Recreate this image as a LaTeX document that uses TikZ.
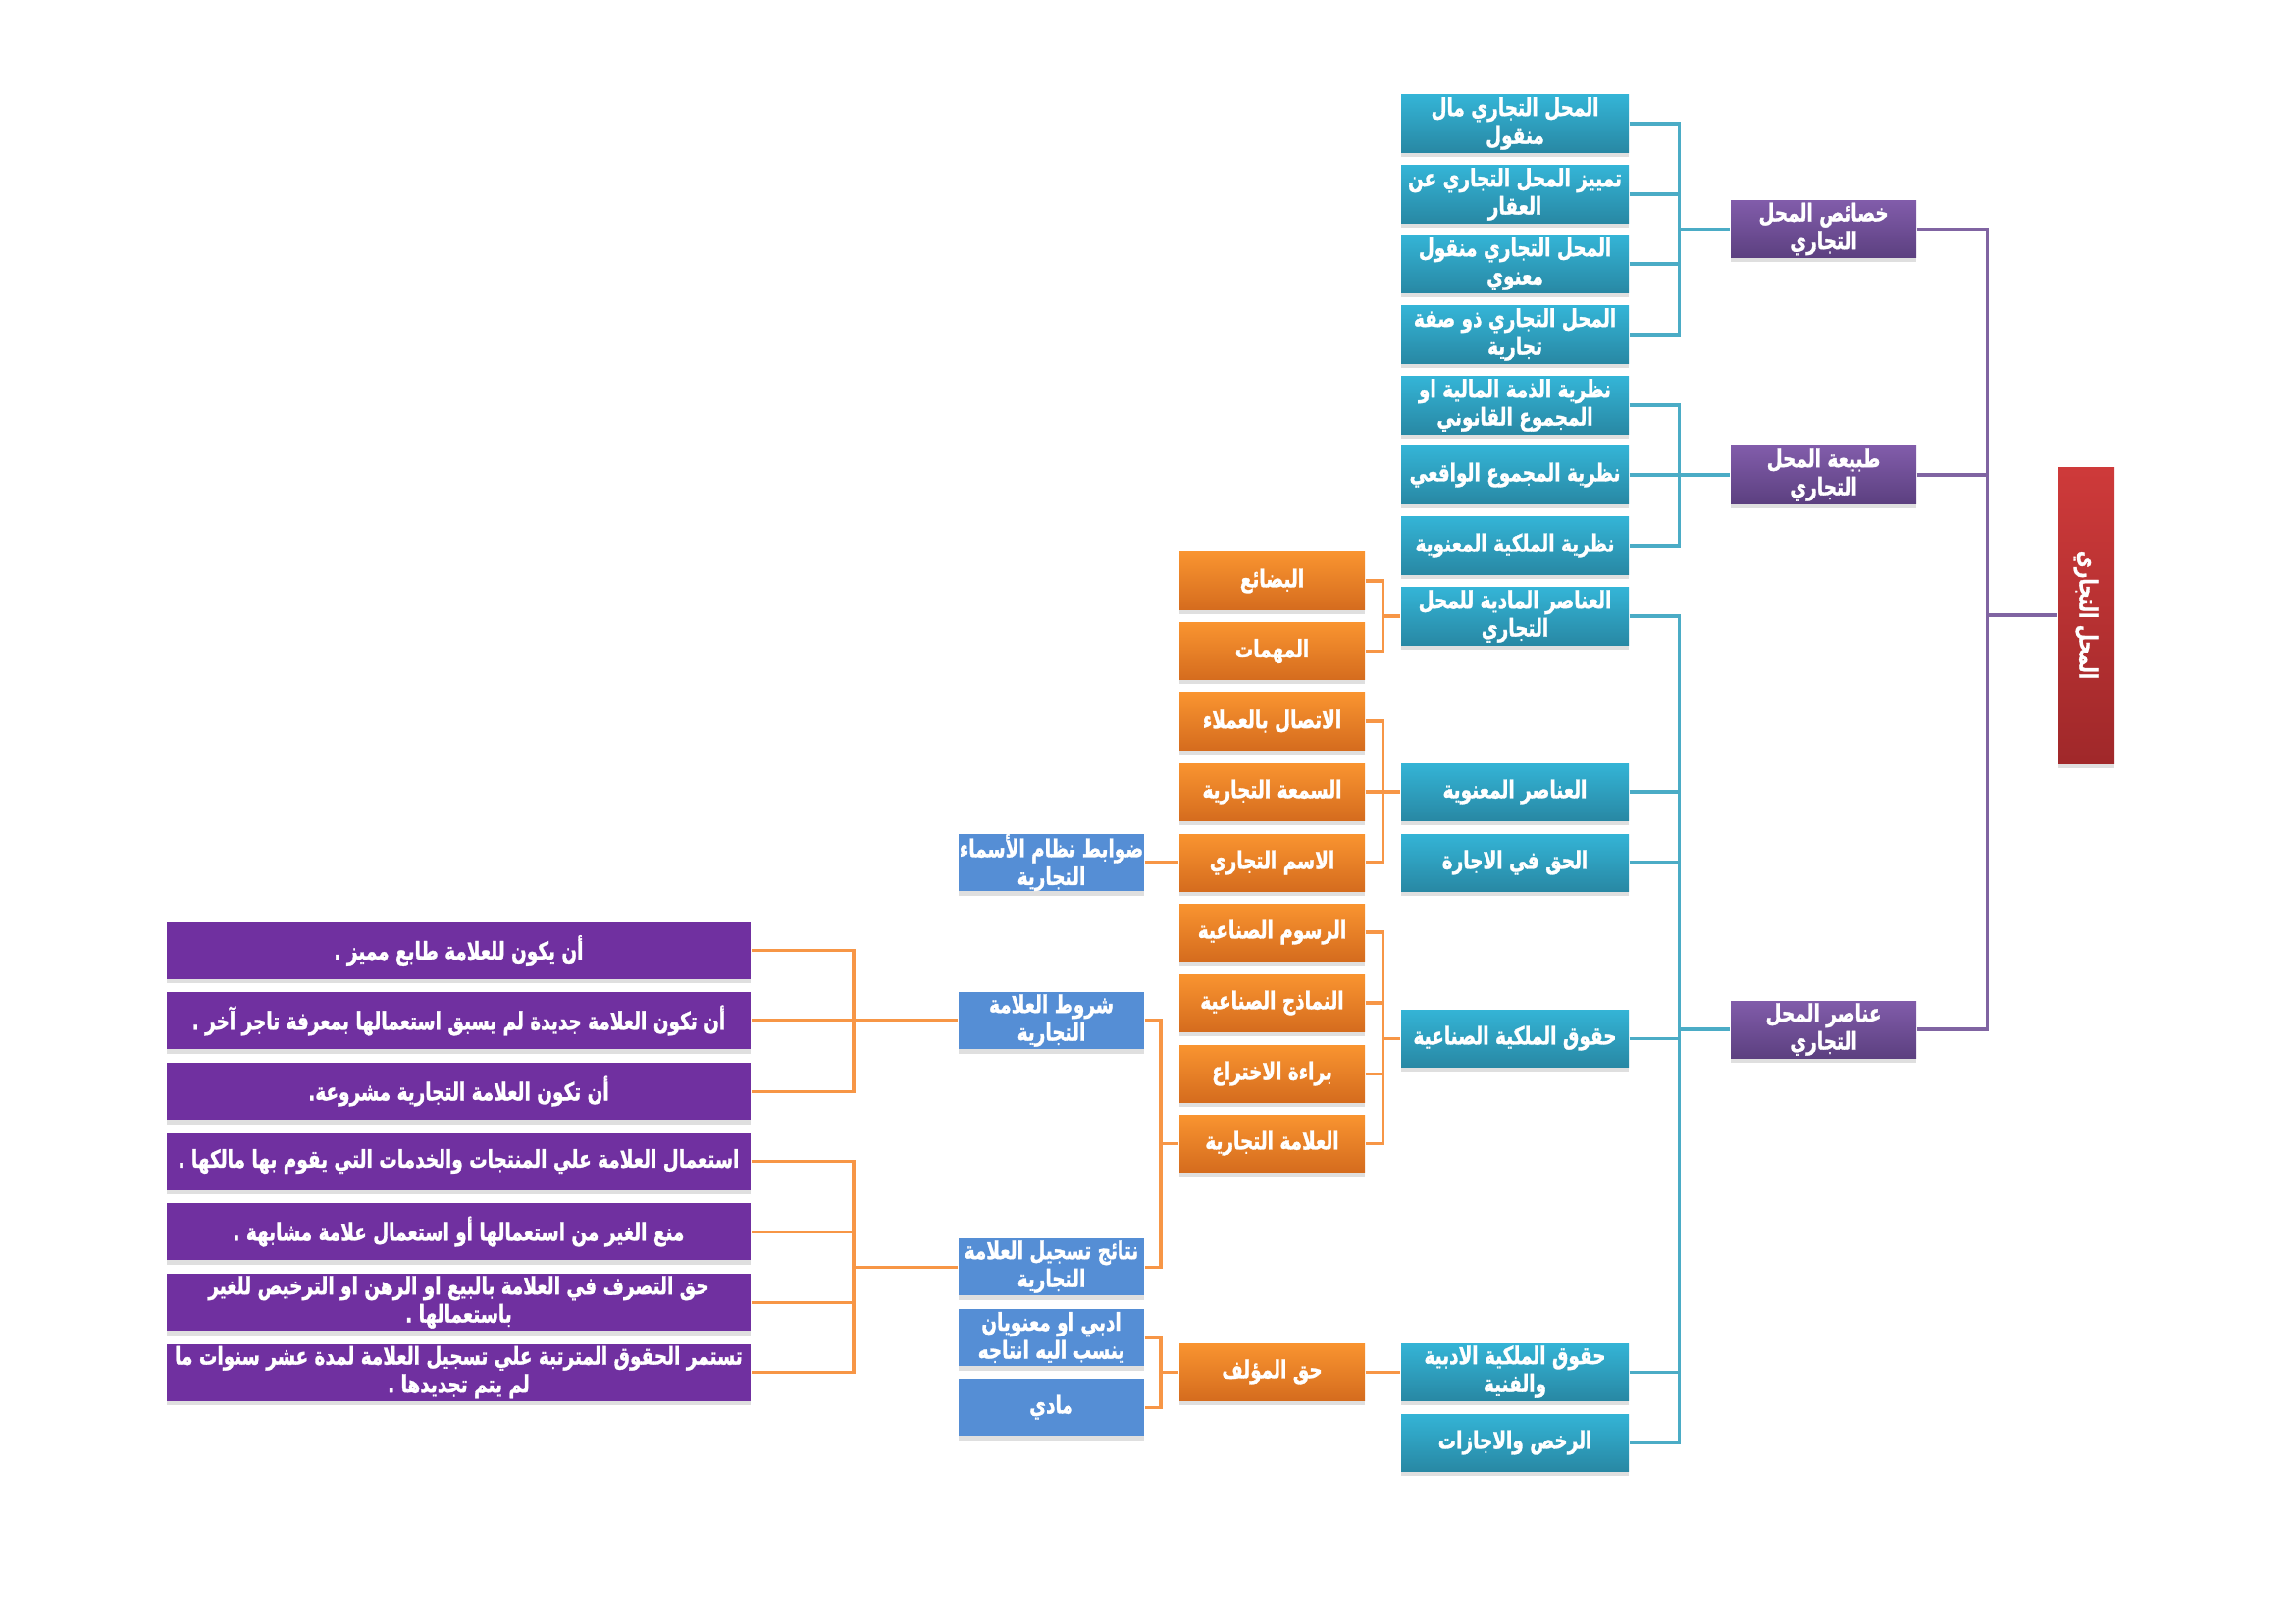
\documentclass[tikz,border=0pt]{standalone}
\usepackage{fontspec}
\TeXXeTstate=1
\newfontfamily\arabicfont[Script=Arabic,FakeStretch=0.74,BoldFeatures={FakeBold=1.2}]{DejaVu Sans}
\usetikzlibrary{shadows}
\definecolor{tealT}{RGB}{52,180,214}
\definecolor{tealB}{RGB}{40,136,164}
\definecolor{orT}{RGB}{249,148,48}
\definecolor{orB}{RGB}{213,108,30}
\definecolor{puT}{RGB}{129,92,170}
\definecolor{puB}{RGB}{92,64,128}
\definecolor{blueF}{RGB}{85,142,213}
\definecolor{purpF}{RGB}{112,48,160}
\definecolor{redT}{RGB}{206,58,58}
\definecolor{redB}{RGB}{160,40,42}
\definecolor{lineO}{RGB}{247,150,70}
\definecolor{lineT}{RGB}{75,172,198}
\definecolor{lineP}{RGB}{128,100,162}
\newcommand\ar[1]{\beginR #1\endR}
\begin{document}
\begin{tikzpicture}[x=0.127mm,y=-0.127mm,
  boxbase/.style={inner sep=0pt, align=center, text=white,
    font=\arabicfont\bfseries\fontsize{9}{10.3}\selectfont,
    minimum height=7.37mm,
    drop shadow={shadow xshift=0mm, shadow yshift=-0.6mm, opacity=0.25}},
  tealbox/.style={boxbase, minimum width=29.46mm, top color=tealT, bottom color=tealB},
  orbox/.style={boxbase, minimum width=24mm, top color=orT, bottom color=orB},
  pubox/.style={boxbase, minimum width=24mm, top color=puT, bottom color=puB},
  bluebox/.style={boxbase, minimum width=24mm, fill=blueF},
  leftbox/.style={boxbase, minimum width=75.6mm, fill=purpF},
  redbox/.style={boxbase, minimum width=7.37mm, minimum height=38.35mm, top color=redT, bottom color=redB},
  lo/.style={draw=lineO, line width=1.1pt},
  lt/.style={draw=lineT, line width=1.1pt},
  lp/.style={draw=lineP, line width=1.1pt}]
\useasboundingbox (0,0) rectangle (2338,1654);

% root
\node[redbox] (R) at (2126,627) {};
\node[text=white, font=\arabicfont\bfseries\fontsize{9}{11}\selectfont, rotate=-90] (Rt) at (R.center) {\ar{المحل التجاري}};

% purple right
\node[pubox] (P1) at (1858.5,233.5) {\ar{خصائص المحل}\\\ar{التجاري}};
\node[pubox] (P2) at (1858.5,484) {\ar{طبيعة المحل}\\\ar{التجاري}};
\node[pubox] (P3) at (1858.5,1049) {\ar{عناصر المحل}\\\ar{التجاري}};

% teal
\node[tealbox] (T1) at (1544,126) {\ar{المحل التجاري مال}\\\ar{منقول}};
\node[tealbox] (T2) at (1544,198) {\ar{تمييز المحل التجاري عن}\\\ar{العقار}};
\node[tealbox] (T3) at (1544,269) {\ar{المحل التجاري منقول}\\\ar{معنوي}};
\node[tealbox] (T4) at (1544,341) {\ar{المحل التجاري ذو صفة}\\\ar{تجارية}};
\node[tealbox] (T5) at (1544,413) {\ar{نظرية الذمة المالية او}\\\ar{المجموع القانوني}};
\node[tealbox] (T6) at (1544,484) {\ar{نظرية المجموع الواقعي}};
\node[tealbox] (T7) at (1544,556) {\ar{نظرية الملكية المعنوية}};
\node[tealbox] (T8) at (1544,628) {\ar{العناصر المادية للمحل}\\\ar{التجاري}};
\node[tealbox] (T9) at (1544,807) {\ar{العناصر المعنوية}};
\node[tealbox] (T10) at (1544,879) {\ar{الحق في الاجارة}};
\node[tealbox] (T11) at (1544,1058) {\ar{حقوق الملكية الصناعية}};
\node[tealbox] (T12) at (1544,1398) {\ar{حقوق الملكية الادبية}\\\ar{والفنية}};
\node[tealbox] (T13) at (1544,1470) {\ar{الرخص والاجازات}};

% orange
\node[orbox] (O1) at (1296.5,592) {\ar{البضائع}};
\node[orbox] (O2) at (1296.5,663.5) {\ar{المهمات}};
\node[orbox] (O3) at (1296.5,735) {\ar{الاتصال بالعملاء}};
\node[orbox] (O4) at (1296.5,807) {\ar{السمعة التجارية}};
\node[orbox] (O5) at (1296.5,879) {\ar{الاسم التجاري}};
\node[orbox] (O6) at (1296.5,950) {\ar{الرسوم الصناعية}};
\node[orbox] (O7) at (1296.5,1022) {\ar{النماذج الصناعية}};
\node[orbox] (O8) at (1296.5,1094) {\ar{براءة الاختراع}};
\node[orbox] (O9) at (1296.5,1165) {\ar{العلامة التجارية}};
\node[orbox] (O10) at (1296.5,1398) {\ar{حق المؤلف}};

% blue
\node[bluebox] (B1) at (1071.5,879) {\ar{ضوابط نظام الأسماء}\\\ar{التجارية}};
\node[bluebox] (B2) at (1071.5,1040) {\ar{شروط العلامة}\\\ar{التجارية}};
\node[bluebox] (B3) at (1071.5,1291) {\ar{نتائج تسجيل العلامة}\\\ar{التجارية}};
\node[bluebox] (B4) at (1071.5,1363) {\ar{ادبي او معنويان}\\\ar{ينسب اليه انتاجه}};
\node[bluebox] (B5) at (1071.5,1434) {\ar{مادي}};

% left purple
\node[leftbox] (L1) at (467.5,968.5) {\ar{أن يكون للعلامة طابع مميز .}};
\node[leftbox] (L2) at (467.5,1040) {\ar{أن تكون العلامة جديدة لم يسبق استعمالها بمعرفة تاجر آخر .}};
\node[leftbox] (L3) at (467.5,1112) {\ar{أن تكون العلامة التجارية مشروعة.}};
\node[leftbox] (L4) at (467.5,1183.5) {\ar{استعمال العلامة علي المنتجات والخدمات التي يقوم بها مالكها .}};
\node[leftbox] (L5) at (467.5,1255) {\ar{منع الغير من استعمالها أو استعمال علامة مشابهة .}};
\node[leftbox] (L6) at (467.5,1327) {\ar{حق التصرف في العلامة بالبيع او الرهن او الترخيص للغير}\\\ar{باستعمالها .}};
\node[leftbox] (L7) at (467.5,1398.5) {\ar{تستمر الحقوق المترتبة علي تسجيل العلامة لمدة عشر سنوات ما}\\\ar{لم يتم تجديدها .}};

% junction coordinates
\coordinate (jr) at (2025,627);
\coordinate (jt1) at (1711,233.5);
\coordinate (jt2) at (1711,484);
\coordinate (jt3) at (1711,1049);
\coordinate (jo1) at (1409,628);
\coordinate (jo2) at (1409,807);
\coordinate (jo3) at (1409,1058);
\coordinate (jb1) at (1183,1165);
\coordinate (jb2) at (1183,1398);
\coordinate (jl1) at (870,1040);
\coordinate (jl2) at (870,1291);

% purple connectors
\draw[lp] (P1.east) -| (jr) |- (P3.east);
\draw[lp] (P2.east) -- (P2.east -| jr);
\draw[lp] (jr) -- (R.west);

% teal connectors
\draw[lt] (T1.east) -| (jt1) |- (T4.east);
\draw[lt] (T2.east) -- (T2.east -| jt1);
\draw[lt] (T3.east) -- (T3.east -| jt1);
\draw[lt] (jt1) -- (P1.west);
\draw[lt] (T5.east) -| (jt2) |- (T7.east);
\draw[lt] (T6.east) -- (P2.west);
\draw[lt] (T8.east) -| (jt3) |- (T13.east);
\draw[lt] (T9.east) -- (T9.east -| jt3);
\draw[lt] (T10.east) -- (T10.east -| jt3);
\draw[lt] (T11.east) -- (T11.east -| jt3);
\draw[lt] (T12.east) -- (T12.east -| jt3);
\draw[lt] (jt3) -- (P3.west);

% orange connectors
\draw[lo] (O1.east) -| (jo1) |- (O2.east);
\draw[lo] (jo1) -- (T8.west);
\draw[lo] (O3.east) -| (jo2) |- (O5.east);
\draw[lo] (O4.east) -- (T9.west);
\draw[lo] (O6.east) -| (jo3) |- (O9.east);
\draw[lo] (O7.east) -- (O7.east -| jo3);
\draw[lo] (O8.east) -- (O8.east -| jo3);
\draw[lo] (jo3) -- (T11.west);
\draw[lo] (O10.east) -- (T12.west);

% blue connectors
\draw[lo] (B1.east) -- (O5.west);
\draw[lo] (B2.east) -| (jb1) |- (B3.east);
\draw[lo] (jb1) -- (O9.west);
\draw[lo] (B4.east) -| (jb2) |- (B5.east);
\draw[lo] (jb2) -- (O10.west);

% left connectors
\draw[lo] (L1.east) -| (jl1) |- (L3.east);
\draw[lo] (L2.east) -- (B2.west);
\draw[lo] (L4.east) -| (jl2) |- (L7.east);
\draw[lo] (L5.east) -- (L5.east -| jl2);
\draw[lo] (L6.east) -- (L6.east -| jl2);
\draw[lo] (jl2) -- (B3.west);
\end{tikzpicture}
\end{document}
